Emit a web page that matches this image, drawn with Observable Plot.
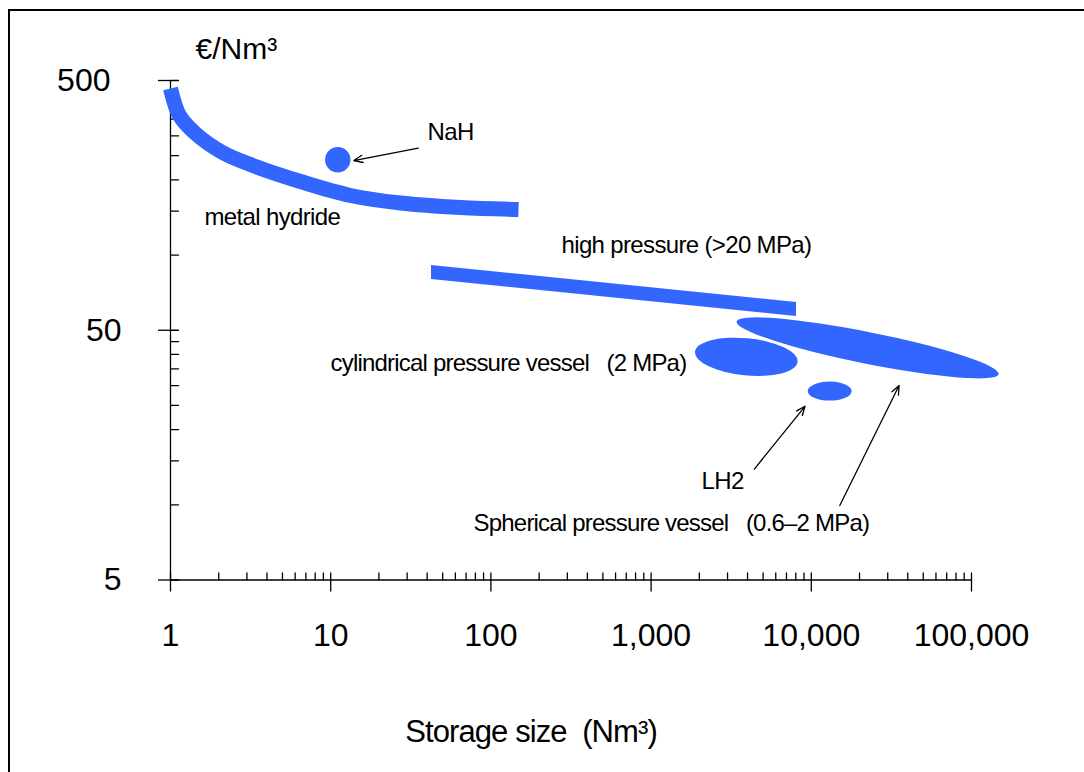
<!DOCTYPE html>
<html>
<head>
<meta charset="utf-8">
<script src="https://cdn.jsdelivr.net/npm/d3@7"></script>
<script src="https://cdn.jsdelivr.net/npm/@observablehq/plot@0.6"></script>
<style>
html, body { margin: 0; padding: 0; background: #fff; overflow: hidden; }
#wrap { position: relative; width: 1084px; height: 772px; overflow: hidden; background: #fff; }
#chart svg { display: block; }
#frame { position: absolute; left: 8px; top: 9px; width: 1200px; height: 900px; border: 2px solid #000; box-sizing: border-box; pointer-events: none; }
</style>
</head>
<body>
<div id="wrap"><div id="chart"></div><div id="frame"></div></div>
<script>
// ---- Data ----
// metal hydride band (centre line)
const hydrideSize = [1, 1.138, 1.432, 2.111, 3.393, 6.479, 13.29, 27.27, 64.6, 148.7];
const hydrideCost = [464.5, 362, 306.7, 257.5, 226.3, 197.0, 173.2, 161.6, 155.0, 152.2];

// high pressure (>20 MPa) band
const highPressureSize = [42.6, 8083];
const highPressureCostTop = [90.8, 64.6];
const highPressureCostBottom = [79.8, 56.8];

// NaH point
const nahSize = [11.07];
const nahCost = [240.9];

// ellipses: ends of main axis + cost at top of minor axis
const ellipseName = ["cylindrical pressure vessel", "spherical pressure vessel", "LH2"];
const ellipseLeftSize = [1893, 3442, 9563];
const ellipseLeftCost = [40.8, 53.9, 28.4];
const ellipseRightSize = [8271, 148700, 18000];
const ellipseRightCost = [37.2, 33.2, 28.4];
const ellipseTopCost = [46.2, 48.8, 31.0];

// annotation arrows
const arrowFromSize = [35.2, 4408, 15060];
const arrowFromCost = [267.8, 13.9, 9.94];
const arrowToSize = [13.94, 9135, 35320];
const arrowToCost = [239, 24.8, 30.05];

// annotation labels (left edge, baseline)
const labelText = [
  "NaH",
  "metal hydride",
  "high pressure (>20 MPa)",
  "cylindrical pressure vessel\u00a0\u00a0\u00a0(2 MPa)",
  "LH2",
  "Spherical pressure vessel\u00a0\u00a0\u00a0(0.6\u20132 MPa)"
];
const labelSize = [40.2, 1.63, 275.9, 9.97, 2064, 77.9];
const labelCost = [287.6, 131.4, 101.5, 34.2, 11.62, 7.89];

// axes
const xMajorTicks = [1, 10, 100, 1000, 10000, 100000];
const xMinorTicks = [2, 3, 4, 5, 6, 7, 8, 9,
  20, 30, 40, 50, 60, 70, 80, 90,
  200, 300, 400, 500, 600, 700, 800, 900,
  2000, 3000, 4000, 5000, 6000, 7000, 8000, 9000,
  20000, 30000, 40000, 50000, 60000, 70000, 80000, 90000];
const yMajorTicks = [5, 50, 500];
const yMinorTicks = [10, 15, 20, 25, 30, 35, 40, 45,
  100, 150, 200, 250, 300, 350, 400, 450];
const xTitle = "Storage size\u00a0\u00a0(Nm\u00b3)";
const yTitle = "\u20ac/Nm\u00b3";

// ---- Tables ----
const blue = "#3366ff";
const hydride = hydrideSize.map((x, i) => ({x, y: hydrideCost[i]}));
const highPressure = highPressureSize.map((x, i) => ({x, y1: highPressureCostBottom[i], y2: highPressureCostTop[i]}));
const nah = nahSize.map((x, i) => ({x, y: nahCost[i]}));
const arrows = arrowFromSize.map((x1, i) => ({x1, y1: arrowFromCost[i], x2: arrowToSize[i], y2: arrowToCost[i]}));
const labels = labelText.map((t, i) => ({t, x: labelSize[i], y: labelCost[i]}));

const tickShape = { draw(context, l) { context.moveTo(0, 0); context.lineTo(0, -l); } };

function ellipses(index, scales) {
  const ns = "http://www.w3.org/2000/svg";
  const g = document.createElementNS(ns, "g");
  g.setAttribute("aria-label", "ellipse");
  ellipseName.forEach((name, i) => {
    const x1 = scales.x(ellipseLeftSize[i]), y1 = scales.y(ellipseLeftCost[i]);
    const x2 = scales.x(ellipseRightSize[i]), y2 = scales.y(ellipseRightCost[i]);
    const cx = (x1 + x2) / 2, cy = (y1 + y2) / 2;
    const ang = Math.atan2(y2 - y1, x2 - x1);
    const rx = Math.hypot(x2 - x1, y2 - y1) / 2;
    const ry = (cy - scales.y(ellipseTopCost[i])) / Math.cos(ang);
    const e = document.createElementNS(ns, "ellipse");
    e.setAttribute("cx", cx);
    e.setAttribute("cy", cy);
    e.setAttribute("rx", rx);
    e.setAttribute("ry", ry);
    e.setAttribute("transform", `rotate(${ang * 180 / Math.PI} ${cx} ${cy})`);
    e.setAttribute("fill", blue);
    const title = document.createElementNS(ns, "title");
    title.textContent = name;
    e.appendChild(title);
    g.appendChild(e);
  });
  return g;
}

const font = "'Liberation Sans', Arial, Helvetica, sans-serif";

const chart = Plot.plot({
  width: 1084,
  height: 772,
  marginLeft: 170,
  marginRight: 113,
  marginTop: 80,
  marginBottom: 192.5,
  x: {type: "log", domain: [1, 100000]},
  y: {type: "log", domain: [5, 500]},
  style: {fontFamily: font, color: "black", background: "white"},
  marks: [
    // axis lines
    Plot.ruleX([1], {y1: 5, y2: 500, stroke: "black", strokeWidth: 1.3}),
    Plot.ruleY([5], {x1: 1, x2: 100000, stroke: "black", strokeWidth: 1.3}),
    // x ticks (major, downward) + labels
    Plot.axisX(xMajorTicks, {
      tickSize: 12, tickPadding: 31, fontSize: 32, strokeWidth: 1.3,
      tickFormat: d3.format(","), label: null
    }),
    // x ticks upward (all)
    Plot.vector(xMajorTicks.concat(xMinorTicks), {
      x: d => d, y: () => 5, length: 7, anchor: "start", shape: tickShape,
      stroke: "black", strokeWidth: 1.3
    }),
    // y major ticks (leftward) + labels
    Plot.axisY(yMajorTicks.filter(d => d < 500), {
      tickSize: 12, tickPadding: 37, fontSize: 32, strokeWidth: 1.3,
      tickFormat: d => String(d), label: null
    }),
    Plot.axisY(yMajorTicks.filter(d => d >= 500), {
      tickSize: 12, tickPadding: 48, fontSize: 32, strokeWidth: 1.3,
      tickFormat: d => String(d), label: null
    }),
    // y ticks rightward (all)
    Plot.vector(yMajorTicks.concat(yMinorTicks), {
      x: () => 1, y: d => d, length: 8, rotate: 90, anchor: "start", shape: tickShape,
      stroke: "black", strokeWidth: 1.3
    }),
    // titles
    Plot.text([yTitle], {
      text: d => d, frameAnchor: "top-left", dx: 25, dy: -22,
      textAnchor: "start", lineAnchor: "bottom", fontSize: 30
    }),
    Plot.text([xTitle], {
      text: d => d, frameAnchor: "bottom", dx: -40, dy: 162,
      textAnchor: "middle", lineAnchor: "bottom", fontSize: 31
    }),
    // data shapes
    Plot.areaY(highPressure, {x: "x", y1: "y1", y2: "y2", fill: blue}),
    Plot.line(hydride, {
      x: "x", y: "y", stroke: blue, strokeWidth: 15, curve: "catmull-rom",
      strokeLinecap: "butt", strokeLinejoin: "round"
    }),
    Plot.dot(nah, {x: "x", y: "y", r: 12.7, fill: blue, stroke: null}),
    ellipses,
    // annotations
    Plot.arrow(arrows, {
      x1: "x1", y1: "y1", x2: "x2", y2: "y2",
      stroke: "black", strokeWidth: 1.3, headLength: 11, headAngle: 45
    }),
    Plot.text(labels, {
      x: "x", y: "y", text: "t", textAnchor: "start", lineAnchor: "bottom",
      fontSize: 24, fill: "black"
    })
  ]
});

// tight letter spacing as in the reference
chart.querySelectorAll("text").forEach(t => {
  const s = t.textContent;
  let ls = null;
  if (labelText.includes(s)) ls = s.length > 30 ? "-0.8px" : "-0.65px";
  else if (s === xTitle) ls = "-0.9px";
  if (ls) { t.setAttribute("letter-spacing", ls); t.style.letterSpacing = ls; }
});

document.getElementById("chart").appendChild(chart);
</script>
</body>
</html>
